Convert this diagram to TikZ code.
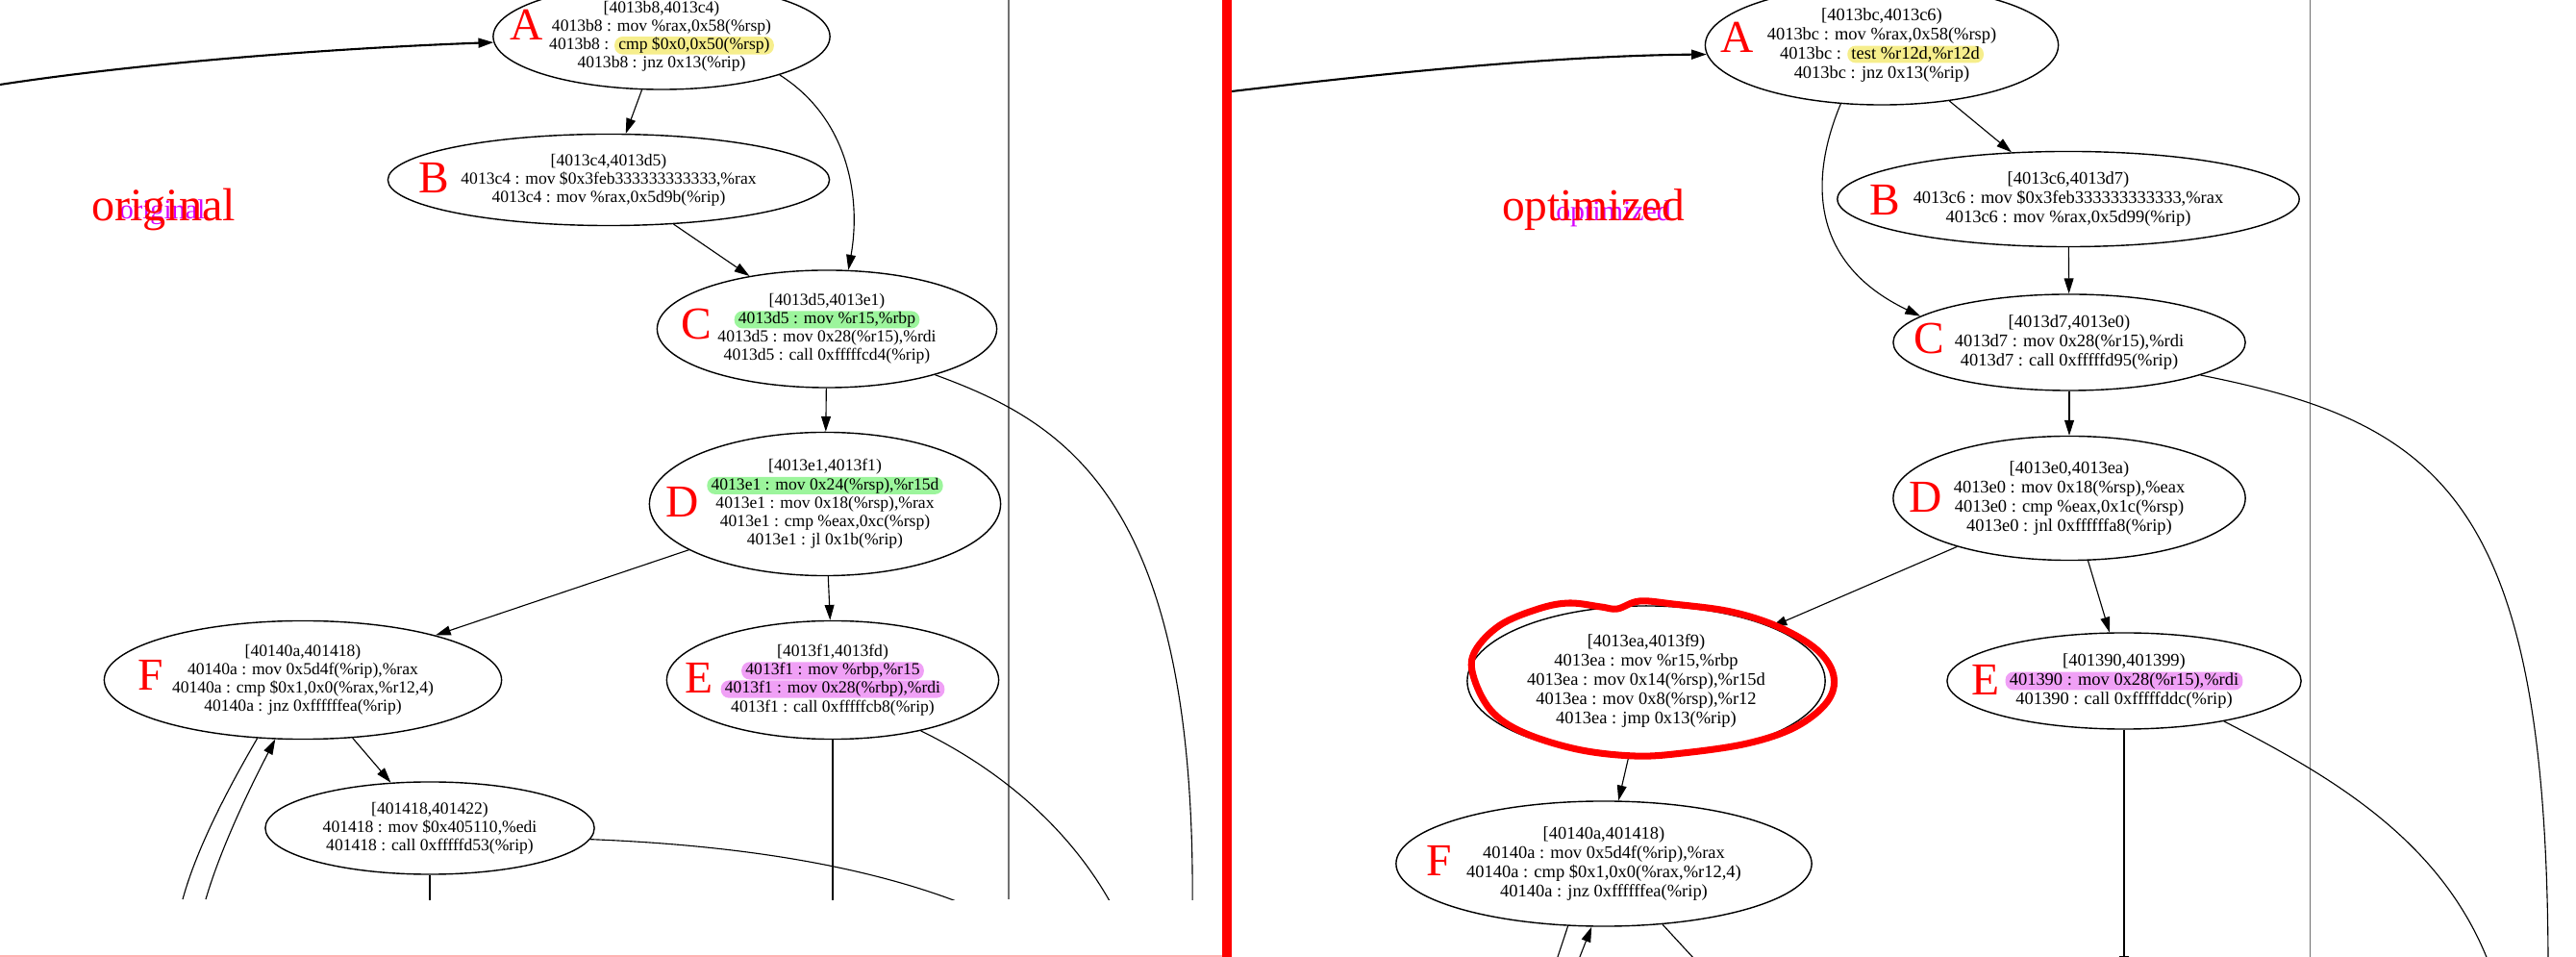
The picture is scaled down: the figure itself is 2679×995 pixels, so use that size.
\documentclass[tikz,border=0pt]{standalone}
\usepackage{fontspec}
\setmainfont{Liberation Serif}
\usetikzlibrary{arrows.meta, shapes.geometric}
\definecolor{hlY}{HTML}{F6EE8C}
\definecolor{hlG}{HTML}{9CF59C}
\definecolor{hlM}{HTML}{F0A0F6}
\definecolor{tagred}{HTML}{FF0000}
\definecolor{echo}{HTML}{D600FF}
\definecolor{rulegray}{HTML}{707070}

\tikzset{
  hlbox/.style={shape=rectangle, draw=none, minimum width=0pt, minimum height=0pt,
                inner xsep=1.2pt, inner ysep=0.3pt, rounded corners=2.4pt}
}
\newcommand{\hlite}[2]{\smash{\tikz[baseline=(hl.base)]\node[hlbox, fill=#1] (hl) {#2};}}

\begin{document}
\begin{tikzpicture}[
  x=0.01cm, y=0.01cm,
  blkL/.style={draw, ellipse, line width=0.4pt, inner sep=0pt, align=center,
               font=\fontsize{5}{5.45}\selectfont},
  blkR/.style={blkL, font=\fontsize{5.25}{5.7}\selectfont},
  tag/.style={text=tagred, inner sep=0pt, font=\fontsize{13.5}{14}\selectfont},
  caption/.style={text=tagred, inner sep=0pt, anchor=base},
  flow/.style={-{Triangle[length=4.5pt, width=2.8pt]}, line width=0.32pt},
  feed/.style={flow, line width=0.6pt},
  wire/.style={line width=0.32pt},
  sepline/.style={draw=rulegray, line width=0.3pt},
  ring/.style={draw=tagred, line width=2pt, line cap=round, line join=round}
]
  \useasboundingbox (0,0) rectangle (2679,-995);

  % Original
  \begin{scope}
    \clip (0,0) rectangle (1271,-935);
    \draw[sepline] (1049,0) -- (1049,-935);

    \node[caption, text=echo, font=\fontsize{8.1}{9}\selectfont] (origNote) at (169,-228) {original};
    \node[caption, font=\fontsize{13.7}{14}\selectfont] (origTitle) at (170,-230) {original};

    \node[blkL, minimum width=3.50cm, minimum height=1.10cm] (origA) at (688,-38)
      {[4013b8,4013c4)\\4013b8 : mov \%rax,0x58(\%rsp)\\4013b8 : \hlite{hlY}{cmp \$0x0,0x50(\%rsp)}\\4013b8 : jnz 0x13(\%rip)};
    \node[blkL, minimum width=4.59cm, minimum height=0.95cm] (origB) at (633,-187)
      {[4013c4,4013d5)\\4013c4 : mov \$0x3feb333333333333,\%rax\\4013c4 : mov \%rax,0x5d9b(\%rip)};
    \node[blkL, minimum width=3.53cm, minimum height=1.22cm] (origC) at (860,-342)
      {[4013d5,4013e1)\\\hlite{hlG}{4013d5 : mov \%r15,\%rbp}\\4013d5 : mov 0x28(\%r15),\%rdi\\4013d5 : call 0xfffffcd4(\%rip)};
    \node[blkL, minimum width=3.65cm, minimum height=1.49cm] (origD) at (858,-524)
      {[4013e1,4013f1)\\\hlite{hlG}{4013e1 : mov 0x24(\%rsp),\%r15d}\\4013e1 : mov 0x18(\%rsp),\%rax\\4013e1 : cmp \%eax,0xc(\%rsp)\\4013e1 : jl 0x1b(\%rip)};
    \node[blkL, minimum width=3.45cm, minimum height=1.23cm] (origE) at (866,-707)
      {[4013f1,4013fd)\\\hlite{hlM}{4013f1 : mov \%rbp,\%r15}\\\hlite{hlM}{4013f1 : mov 0x28(\%rbp),\%rdi}\\4013f1 : call 0xfffffcb8(\%rip)};
    \node[blkL, minimum width=4.13cm, minimum height=1.23cm] (origF) at (315,-707)
      {[40140a,401418)\\40140a : mov 0x5d4f(\%rip),\%rax\\40140a : cmp \$0x1,0x0(\%rax,\%r12,4)\\40140a : jnz 0xffffffea(\%rip)};
    \node[blkL, minimum width=3.42cm, minimum height=0.96cm] (origG) at (447,-861)
      {[401418,401422)\\401418 : mov \$0x405110,\%edi\\401418 : call 0xfffffd53(\%rip)};

    \node[tag] (origAtag) at (548,-26) {A};
    \node[tag] (origBtag) at (451,-185) {B};
    \node[tag] (origCtag) at (724,-337) {C};
    \node[tag] (origDtag) at (710,-522) {D};
    \node[tag] (origEtag) at (727,-705) {E};
    \node[tag] (origFtag) at (157,-702) {F};

    \coordinate (inL) at (0,-88);
    \coordinate (fOut) at (190,-935);
    \coordinate (fIn) at (214,-935);
    \coordinate (gDown) at (447,-960);
    \coordinate (gRight) at (1100,-990);
    \coordinate (eDown) at (866,-960);
    \coordinate (eRight) at (1175,-980);
    \coordinate (cDown) at (1240,-950);

    \draw[feed] (inL) .. controls (150,-65) and (350,-50) .. (origA.182);
    \draw[flow] (origA) -- (origB);
    \draw[flow] (origA.-18) .. controls (885,-125) and (895,-210) .. (origC.70);
    \draw[flow] (origB) -- (origC);
    \draw[flow] (origC) -- (origD);
    \draw[flow] (origD) -- (origF);
    \draw[flow] (origD) -- (origE);
    \draw[flow] (origF) -- (origG);
    \draw[wire] (origF.-128) .. controls (240,-815) and (205,-880) .. (fOut);
    \draw[flow] (fIn) .. controls (230,-880) and (262,-815) .. (origF.-115);
    \draw[wire] (origG) -- (gDown);
    \draw[wire] (origG.-4) .. controls (800,-880) and (980,-910) .. (gRight);
    \draw[wire] (origE) -- (eDown);
    \draw[wire] (origE.-30) .. controls (1040,-800) and (1130,-870) .. (eRight);
    \draw[wire] (origC.-23) .. controls (1110,-440) and (1245,-520) .. (cDown);
  \end{scope}
  \draw[tagred!30, line width=0.45pt] (0,-994) -- (1271,-994);
  \fill[tagred] (1271,0) rectangle (1281,-995);

  % Optimized
  \begin{scope}
    \clip (1281,0) rectangle (2679,-995);
    \draw[sepline] (2402,0) -- (2402,-995);

    \node[caption, text=echo, font=\fontsize{8.5}{9}\selectfont] (optNote) at (1678,-230) {optimized};
    \node[caption, font=\fontsize{13.5}{14}\selectfont] (optTitle) at (1657,-230) {optimized};

    \node[blkR, minimum width=3.67cm, minimum height=1.24cm] (optA) at (1957,-47)
      {[4013bc,4013c6)\\4013bc : mov \%rax,0x58(\%rsp)\\4013bc : \hlite{hlY}{test \%r12d,\%r12d}\\4013bc : jnz 0x13(\%rip)};
    \node[blkR, minimum width=4.80cm, minimum height=0.99cm] (optB) at (2151,-207)
      {[4013c6,4013d7)\\4013c6 : mov \$0x3feb333333333333,\%rax\\4013c6 : mov \%rax,0x5d99(\%rip)};
    \node[blkR, minimum width=3.66cm, minimum height=1.00cm] (optC) at (2152,-356)
      {[4013d7,4013e0)\\4013d7 : mov 0x28(\%r15),\%rdi\\4013d7 : call 0xfffffd95(\%rip)};
    \node[blkR, minimum width=3.66cm, minimum height=1.29cm] (optD) at (2152,-518)
      {[4013e0,4013ea)\\4013e0 : mov 0x18(\%rsp),\%eax\\4013e0 : cmp \%eax,0x1c(\%rsp)\\4013e0 : jnl 0xffffffa8(\%rip)};
    \node[blkR, minimum width=3.72cm, minimum height=1.56cm] (optX) at (1712,-708)
      {[4013ea,4013f9)\\4013ea : mov \%r15,\%rbp\\4013ea : mov 0x14(\%rsp),\%r15d\\4013ea : mov 0x8(\%rsp),\%r12\\4013ea : jmp 0x13(\%rip)};
    \node[blkR, minimum width=3.68cm, minimum height=1.00cm] (optE) at (2209,-708)
      {[401390,401399)\\\hlite{hlM}{401390 : mov 0x28(\%r15),\%rdi}\\401390 : call 0xfffffddc(\%rip)};
    \node[blkR, minimum width=4.32cm, minimum height=1.30cm] (optF) at (1668,-898)
      {[40140a,401418)\\40140a : mov 0x5d4f(\%rip),\%rax\\40140a : cmp \$0x1,0x0(\%rax,\%r12,4)\\40140a : jnz 0xffffffea(\%rip)};

    \node[tag] (optAtag) at (1807,-39) {A};
    \node[tag] (optBtag) at (1960,-208) {B};
    \node[tag] (optCtag) at (2006,-352) {C};
    \node[tag] (optDtag) at (2003,-517) {D};
    \node[tag] (optEtag) at (2065,-707) {E};
    \node[tag] (optFtag) at (1497,-895) {F};

    \coordinate (inR) at (1281,-95);
    \coordinate (eDown2) at (2209,-1010);
    \coordinate (eRight2) at (2595,-1020);
    \coordinate (cDown2) at (2650,-1010);
    \coordinate (fOut2) at (1615,-1010);
    \coordinate (fIn2) at (1637,-1010);
    \coordinate (fOut3) at (1774,-1010);

    \draw[feed] (inR) .. controls (1450,-75) and (1620,-58) .. (optA.183);
    \draw[flow] (optA) -- (optB);
    \draw[flow] (optA.-125) .. controls (1880,-190) and (1885,-275) .. (optC.170);
    \draw[flow] (optB) -- (optC);
    \draw[flow] (optC) -- (optD);
    \draw[flow] (optD) -- (optX);
    \draw[flow] (optD) -- (optE);
    \draw[flow] (optX) -- (optF);
    \draw[flow] (optE) -- (eDown2);
    \draw[wire] (optE.-22) .. controls (2430,-810) and (2550,-880) .. (eRight2);
    \draw[wire] (optC.-14) .. controls (2540,-440) and (2650,-520) .. (cDown2);
    \draw[wire] (optF.-120) -- (fOut2);
    \draw[flow] (fIn2) -- (optF.-101);
    \draw[wire] (optF.-46) -- (fOut3);

    % hand-drawn mark round the new block
    \draw[ring] plot[smooth cycle, tension=0.6] coordinates {
      (1600,-633) (1632,-627) (1665,-631) (1682,-633) (1705,-625) (1740,-628)
      (1800,-636) (1850,-652) (1890,-676) (1907,-703) (1900,-730) (1867,-756)
      (1817,-773) (1750,-783) (1700,-786) (1640,-779) (1583,-761) (1550,-738)
      (1532,-702) (1534,-677) (1560,-650)};
  \end{scope}
\end{tikzpicture}
\end{document}
